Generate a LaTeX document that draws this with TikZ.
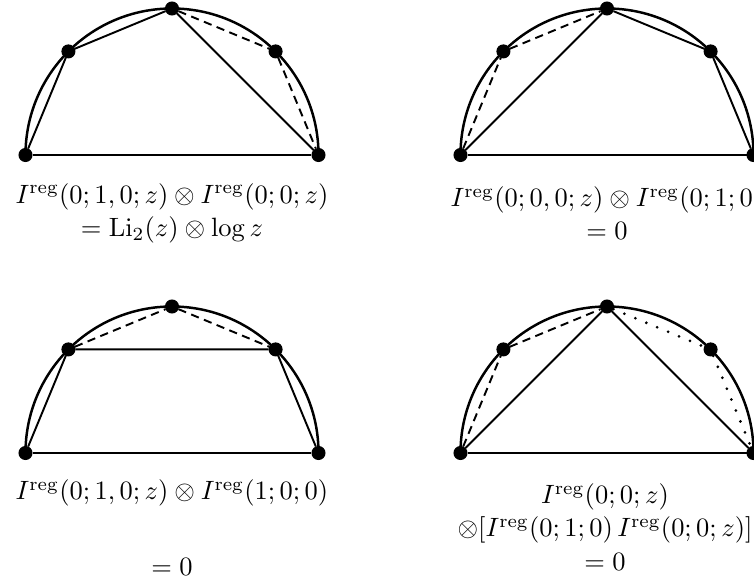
\documentclass[tikz,border=0pt]{standalone}
\usepackage{amsmath}

\newcommand*{\rad}{146.5}

\begin{document}
\begin{tikzpicture}
[
	x=0.3636pt,y=0.3636pt,
	vtx/.style={circle,draw,fill,inner sep=0pt,minimum size=4.7pt},
	rim/.style={line width=0.9pt},
	chord/.style={line width=0.7pt},
	dashchord/.style={line width=0.7pt,dash pattern=on 3pt off 2pt},
	dotchord/.style={line width=1.1pt,line cap=round,dash pattern=on 0pt off 4.3pt},
	lbl/.style={align=center,scale=0.963}
]

	\useasboundingbox (0,0) rectangle (754,579);

	% top left
	\begin{scope}[shift={(172,424)}]
		\draw[rim] (0:\rad) arc[start angle=0,end angle=180,radius=\rad];
		\node[vtx] at (180:\rad) (l) {};
		\node[vtx] at (135:\rad) (ul) {};
		\node[vtx] at (90:\rad) (t) {};
		\node[vtx] at (45:\rad) (ur) {};
		\node[vtx] at (0:\rad) (r) {};
		\draw[chord] (l) -- (r);
		\draw[chord] (l) -- (ul) -- (t) -- (r);
		\draw[dashchord] (t) -- (ur) -- (r);
		\node[lbl] at (0,-58.5) (lab) {$I^{\mathrm{reg}}(0;1,0;z)\otimes I^{\mathrm{reg}}(0;0;z)$\\[0.5pt]$=\mathrm{Li}_2(z)\otimes\log z$};
	\end{scope}

	% top right
	\begin{scope}[shift={(607,424)}]
		\draw[rim] (0:\rad) arc[start angle=0,end angle=180,radius=\rad];
		\node[vtx] at (180:\rad) (l) {};
		\node[vtx] at (135:\rad) (ul) {};
		\node[vtx] at (90:\rad) (t) {};
		\node[vtx] at (45:\rad) (ur) {};
		\node[vtx] at (0:\rad) (r) {};
		\draw[chord] (l) -- (r);
		\draw[dashchord] (l) -- (ul) -- (t);
		\draw[chord] (l) -- (t) -- (ur) -- (r);
		\node[lbl] at (0,-58.5) (lab) {$I^{\mathrm{reg}}(0;0,0;z)\otimes I^{\mathrm{reg}}(0;1;0)$\\[0.5pt]$=0$};
	\end{scope}

	% bottom left
	\begin{scope}[shift={(172,126)}]
		\draw[rim] (0:\rad) arc[start angle=0,end angle=180,radius=\rad];
		\node[vtx] at (180:\rad) (l) {};
		\node[vtx] at (135:\rad) (ul) {};
		\node[vtx] at (90:\rad) (t) {};
		\node[vtx] at (45:\rad) (ur) {};
		\node[vtx] at (0:\rad) (r) {};
		\draw[chord] (l) -- (r);
		\draw[chord] (l) -- (ul) -- (ur) -- (r);
		\draw[dashchord] (ul) -- (t) -- (ur);
		\node[lbl] at (0,-40) (lab) {$I^{\mathrm{reg}}(0;1,0;z)\otimes I^{\mathrm{reg}}(1;0;0)$};
		\node[lbl] at (0,-114) (res) {$=0$};
	\end{scope}

	% bottom right
	\begin{scope}[shift={(607,126)}]
		\draw[rim] (0:\rad) arc[start angle=0,end angle=180,radius=\rad];
		\node[vtx] at (180:\rad) (l) {};
		\node[vtx] at (135:\rad) (ul) {};
		\node[vtx] at (90:\rad) (t) {};
		\node[vtx] at (45:\rad) (ur) {};
		\node[vtx] at (0:\rad) (r) {};
		\draw[chord] (l) -- (r);
		\draw[dashchord] (l) -- (ul) -- (t);
		\draw[chord] (l) -- (t) -- (r);
		\draw[dotchord] (t) -- (ur) -- (r);
		\node[lbl] at (-2,-74) (lab) {$I^{\mathrm{reg}}(0;0;z)$\\[0.5pt]$\otimes[I^{\mathrm{reg}}(0;1;0)\,I^{\mathrm{reg}}(0;0;z)]$\\[0.5pt]$=0$};
	\end{scope}

\end{tikzpicture}
\end{document}
